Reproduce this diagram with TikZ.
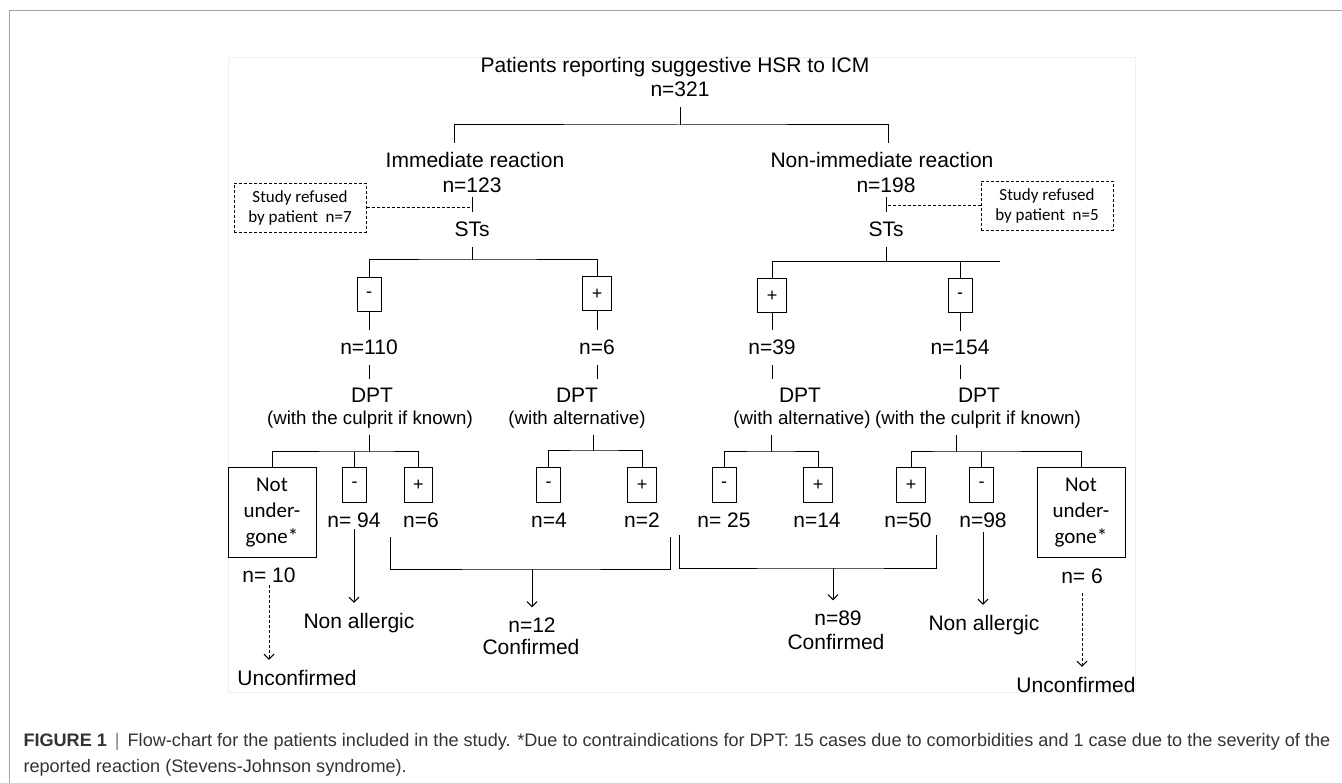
\documentclass[tikz,border=0pt]{standalone}
\usepackage{fontspec}
\setmainfont{Liberation Sans}
\newfontfamily\calfont{Carlito}
\usetikzlibrary{arrows.meta}
\definecolor{capgray}{HTML}{333333}
\definecolor{framegray}{HTML}{A3A3A3}
\definecolor{panelgray}{HTML}{EFEFEF}

\begin{document}
\begin{tikzpicture}[x=1pt, y=-1pt, line width=1pt,
    txt/.style={font=\fontsize{21}{25}\selectfont, anchor=base, inner sep=0pt, outer ysep=10pt},
    subtxt/.style={font=\fontsize{18.7}{22}\selectfont, anchor=base, inner sep=0pt, outer ysep=6pt},
    sgn/.style={draw, font=\fontsize{18}{20}\selectfont, inner xsep=9pt, inner ysep=0pt, minimum height=34pt},
    nobox/.style={draw, font=\calfont\fontsize{21}{26}\selectfont, align=center, minimum width=88pt, minimum height=89pt, inner sep=0pt},
    dsh/.style={dash pattern=on 3pt off 2pt},
    refbox/.style={draw, dsh, font=\calfont\fontsize{17}{20}\selectfont, align=center, minimum width=132pt, minimum height=49pt, inner sep=0pt},
    arr/.style={-{Straight Barb[length=5pt,width=10pt]}},
    darr/.style={arr, dsh}]
    \useasboundingbox (0,0) rectangle (1342,783);
    \draw[framegray, line width=1.5pt] (9.5,783) -- (9.5,10.5) -- (1342,10.5);
    \draw[panelgray, line width=0.8pt] (228,57) rectangle (1135,692);

    % top
    \node[txt] (top) at (675,73) {Patients reporting suggestive HSR to ICM};
    \node[txt] (topn) at (680,97) {n=321};
    \coordinate (b0) at (680,125);
    \node[txt] (imm) at (475,168) {Immediate reaction};
    \node[txt, outer ysep=4pt] (immn) at (472,193) {n=123};
    \node[txt] (imst) at (472,237) {STs};
    \node[txt] (nim) at (882,168) {Non-immediate reaction};
    \node[txt, outer ysep=4pt] (nimn) at (886,193) {n=198};
    \node[txt] (nist) at (886,237) {STs};
    \node[refbox] (ref1) at (300,208) {Study refused\\by patient\ \ n=7};
    \node[refbox] (ref2) at (1047,206) {Study refused\\by patient\ \ n=5};
    \draw (b0) -- (b0 |- topn.south);
    \draw ([xshift=-21pt]imm.north) |- (b0) -| ([xshift=6pt]nim.north);
    \draw (immn.south) -- (imst.north);
    \draw (nimn.south) -- (nist.north);
    \draw[dsh] (ref1.east) -- (ref1.east -| imst);
    \draw[dsh] (ref2.west) -- (ref2.west -| nist);

    % skin tests
    \coordinate (b1) at (472,260);
    \coordinate (b2) at (886,262);
    \coordinate (stub) at (1000,262);
    \node[sgn] (s1m) at (369,295) {-};
    \node[sgn] (s1p) at (597,294) {+};
    \node[sgn] (s2p) at (772,296) {+};
    \node[sgn] (s2m) at (960,296) {-};
    \draw (imst.south) -- (b1);
    \draw (s1m.north) |- (b1) -| (s1p.north);
    \draw (nist.south) -- (b2);
    \draw (s2p.north) |- (stub);
    \draw (s2m.north) -- (s2m.north |- stub);

    \node[txt] (n110) at (369,355) {n=110};
    \node[txt] (n6a) at (597,355) {n=6};
    \node[txt] (n39) at (772,355) {n=39};
    \node[txt] (n154) at (960,355) {n=154};
    \draw (s1m.south) -- (n110.north);
    \draw (s1p.south) -- (n6a.north);
    \draw (s2p.south) -- (n39.north);
    \draw (s2m.south) -- (n154.north);

    % provocation tests
    \node[txt] (dpt1) at (372,403) {DPT};
    \node[subtxt] (dpt1s) at (370,425) {(with the culprit if known)};
    \node[txt] (dpt2) at (577,403) {DPT};
    \node[subtxt] (dpt2s) at (577,425) {(with alternative)};
    \node[txt] (dpt3) at (800,403) {DPT};
    \node[subtxt] (dpt3s) at (802,425) {(with alternative)};
    \node[txt] (dpt4) at (979,403) {DPT};
    \node[subtxt] (dpt4s) at (978,425) {(with the culprit if known)};
    \draw (n110.south) -- (n110.south |- dpt1.north);
    \draw (n6a.south) -- (n6a.south |- dpt2.north);
    \draw (n39.south) -- (n39.south |- dpt3.north);
    \draw (n154.south) -- (n154.south |- dpt4.north);

    \coordinate (b3) at (369,452);
    \coordinate (b4) at (593,451);
    \coordinate (b5) at (771,452);
    \coordinate (b6) at (956,452);
    \node[nobox] (nu1) at (272,512.5) {Not\\under-\\gone*};
    \node[sgn] (c3m) at (354.5,485) {-};
    \node[sgn] (c3p) at (418.5,485) {+};
    \node[sgn] (c4m) at (548.5,485) {-};
    \node[sgn] (c4p) at (642,485) {+};
    \node[sgn] (c5m) at (724,485) {-};
    \node[sgn] (c5p) at (818,485) {+};
    \node[sgn] (c6p) at (911,485) {+};
    \node[sgn] (c6m) at (981.5,485) {-};
    \node[nobox] (nu2) at (1081,512.5) {Not\\under-\\gone*};
    \draw (b3) -- (b3 |- dpt1s.south);
    \draw (nu1.north) |- (b3) -| (c3p.north);
    \draw (c3m.north) -- (c3m.north |- b3);
    \draw (b4) -- (b4 |- dpt2s.south);
    \draw (c4m.north) |- (b4) -| (c4p.north);
    \draw (b5) -- (b5 |- dpt3s.south);
    \draw (c5m.north) |- (b5) -| (c5p.north);
    \draw (b6) -- (b6 |- dpt4s.south);
    \draw (c6p.north) |- (b6) -| (nu2.north);
    \draw (c6m.north) -- (c6m.north |- b6);

    \node[txt] (n94) at (354,527) {n= 94};
    \node[txt] (n6b) at (421,527) {n=6};
    \node[txt] (n4) at (549,527) {n=4};
    \node[txt] (n2) at (642,527) {n=2};
    \node[txt] (n25) at (724,527) {n= 25};
    \node[txt] (n14) at (817,527) {n=14};
    \node[txt] (n50) at (908,527) {n=50};
    \node[txt] (n98) at (983,527) {n=98};
    \node[txt] (n10) at (269,582) {n= 10};
    \node[txt] (n6c) at (1082,583) {n= 6};

    % outcomes
    \node[txt] (na1) at (359,628) {Non allergic};
    \node[txt] (na2) at (984,630) {Non allergic};
    \node[txt] (un1) at (297,685) {Unconfirmed};
    \node[txt] (un2) at (1076,692) {Unconfirmed};
    \node[txt] (n12) at (532,632) {n=12};
    \node[txt] (cf1) at (531,654) {Confirmed};
    \node[txt] (n89) at (838,625) {n=89};
    \node[txt] (cf2) at (836,649) {Confirmed};

    \coordinate (k1) at (390,537);
    \coordinate (k2) at (670,537);
    \coordinate (j1) at (532,569);
    \coordinate (k3) at (679,535);
    \coordinate (k4) at (936,535);
    \coordinate (j2) at (833,568);
    \draw (k1) |- (j1) -| (k2);
    \draw[arr] (j1) -- (j1 |- n12.north);
    \draw (k3) |- (j2) -| (k4);
    \draw[arr] (j2) -- (j2 |- n89.north);
    \draw[arr] ([yshift=-2pt]n94.base) -- (n94.base |- na1.north);
    \draw[arr] ([yshift=-5pt]n98.base) -- (n98.base |- na2.north);
    \draw[darr] ([yshift=-3pt]n10.base) -- (n10.base |- un1.north);
    \draw[darr] (n6c.south) -- (n6c.south |- un2.north);

    % caption
    \node[anchor=base west, inner sep=0pt, text=capgray, font=\fontsize{18.1}{26}\selectfont] (cap1) at (23,746)
        {\textbf{FIGURE 1}\hspace{8pt}{\color{gray}|}\hspace{8pt}Flow-chart for the patients included in the study. *Due to contraindications for DPT: 15 cases due to comorbidities and 1 case due to the severity of the};
    \node[anchor=base west, inner sep=0pt, text=capgray, font=\fontsize{18.1}{26}\selectfont] (cap2) at (23,772)
        {reported reaction (Stevens-Johnson syndrome).};
\end{tikzpicture}
\end{document}
